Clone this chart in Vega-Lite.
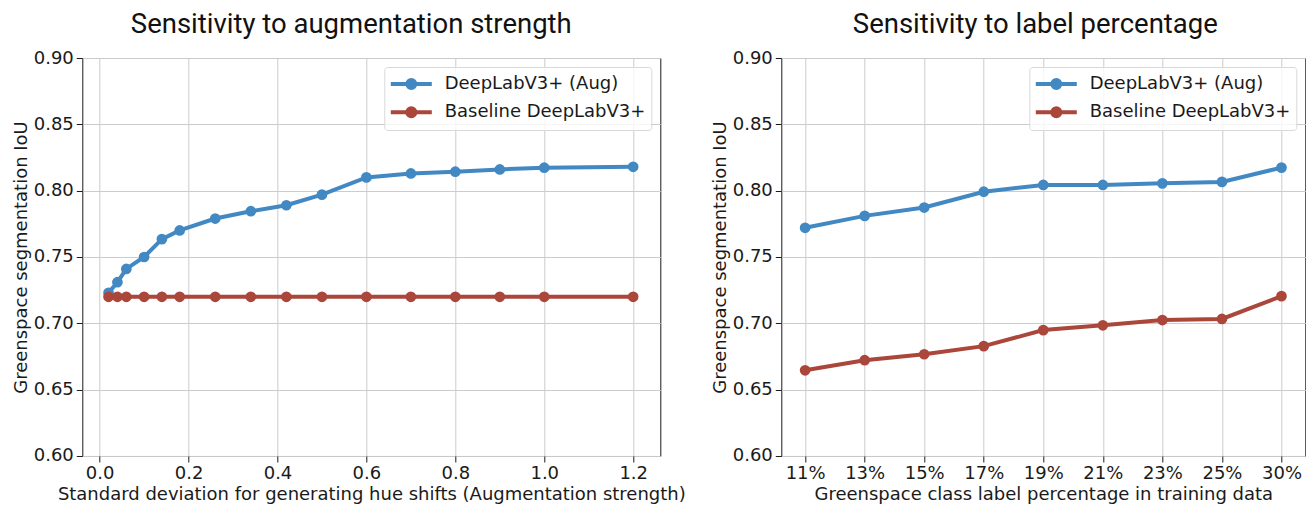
{
  "$schema": "https://vega.github.io/schema/vega-lite/v6.json",
  "background": "white",
  "padding": {"left": 11.3, "top": 10, "right": 0, "bottom": 0},
  "datasets": {
    "aug": [
      {"x": 0.02, "iou": 0.723, "model": "DeepLabV3+ (Aug)"},
      {"x": 0.04, "iou": 0.731, "model": "DeepLabV3+ (Aug)"},
      {"x": 0.06, "iou": 0.741, "model": "DeepLabV3+ (Aug)"},
      {"x": 0.10, "iou": 0.750, "model": "DeepLabV3+ (Aug)"},
      {"x": 0.14, "iou": 0.7635, "model": "DeepLabV3+ (Aug)"},
      {"x": 0.18, "iou": 0.770, "model": "DeepLabV3+ (Aug)"},
      {"x": 0.26, "iou": 0.779, "model": "DeepLabV3+ (Aug)"},
      {"x": 0.34, "iou": 0.7845, "model": "DeepLabV3+ (Aug)"},
      {"x": 0.42, "iou": 0.789, "model": "DeepLabV3+ (Aug)"},
      {"x": 0.50, "iou": 0.797, "model": "DeepLabV3+ (Aug)"},
      {"x": 0.60, "iou": 0.810, "model": "DeepLabV3+ (Aug)"},
      {"x": 0.70, "iou": 0.813, "model": "DeepLabV3+ (Aug)"},
      {"x": 0.80, "iou": 0.8143, "model": "DeepLabV3+ (Aug)"},
      {"x": 0.90, "iou": 0.816, "model": "DeepLabV3+ (Aug)"},
      {"x": 1.00, "iou": 0.8173, "model": "DeepLabV3+ (Aug)"},
      {"x": 1.20, "iou": 0.818, "model": "DeepLabV3+ (Aug)"},
      {"x": 0.02, "iou": 0.720, "model": "Baseline DeepLabV3+"},
      {"x": 0.04, "iou": 0.720, "model": "Baseline DeepLabV3+"},
      {"x": 0.06, "iou": 0.720, "model": "Baseline DeepLabV3+"},
      {"x": 0.10, "iou": 0.720, "model": "Baseline DeepLabV3+"},
      {"x": 0.14, "iou": 0.720, "model": "Baseline DeepLabV3+"},
      {"x": 0.18, "iou": 0.720, "model": "Baseline DeepLabV3+"},
      {"x": 0.26, "iou": 0.720, "model": "Baseline DeepLabV3+"},
      {"x": 0.34, "iou": 0.720, "model": "Baseline DeepLabV3+"},
      {"x": 0.42, "iou": 0.720, "model": "Baseline DeepLabV3+"},
      {"x": 0.50, "iou": 0.720, "model": "Baseline DeepLabV3+"},
      {"x": 0.60, "iou": 0.720, "model": "Baseline DeepLabV3+"},
      {"x": 0.70, "iou": 0.720, "model": "Baseline DeepLabV3+"},
      {"x": 0.80, "iou": 0.720, "model": "Baseline DeepLabV3+"},
      {"x": 0.90, "iou": 0.720, "model": "Baseline DeepLabV3+"},
      {"x": 1.00, "iou": 0.720, "model": "Baseline DeepLabV3+"},
      {"x": 1.20, "iou": 0.720, "model": "Baseline DeepLabV3+"}
    ],
    "label": [
      {"pct": "11%", "iou": 0.772, "model": "DeepLabV3+ (Aug)"},
      {"pct": "13%", "iou": 0.781, "model": "DeepLabV3+ (Aug)"},
      {"pct": "15%", "iou": 0.7873, "model": "DeepLabV3+ (Aug)"},
      {"pct": "17%", "iou": 0.7992, "model": "DeepLabV3+ (Aug)"},
      {"pct": "19%", "iou": 0.8043, "model": "DeepLabV3+ (Aug)"},
      {"pct": "21%", "iou": 0.8043, "model": "DeepLabV3+ (Aug)"},
      {"pct": "23%", "iou": 0.8055, "model": "DeepLabV3+ (Aug)"},
      {"pct": "25%", "iou": 0.8066, "model": "DeepLabV3+ (Aug)"},
      {"pct": "30%", "iou": 0.8174, "model": "DeepLabV3+ (Aug)"},
      {"pct": "11%", "iou": 0.6646, "model": "Baseline DeepLabV3+"},
      {"pct": "13%", "iou": 0.6722, "model": "Baseline DeepLabV3+"},
      {"pct": "15%", "iou": 0.6767, "model": "Baseline DeepLabV3+"},
      {"pct": "17%", "iou": 0.6828, "model": "Baseline DeepLabV3+"},
      {"pct": "19%", "iou": 0.6949, "model": "Baseline DeepLabV3+"},
      {"pct": "21%", "iou": 0.6985, "model": "Baseline DeepLabV3+"},
      {"pct": "23%", "iou": 0.7025, "model": "Baseline DeepLabV3+"},
      {"pct": "25%", "iou": 0.7033, "model": "Baseline DeepLabV3+"},
      {"pct": "30%", "iou": 0.7205, "model": "Baseline DeepLabV3+"}
    ]
  },
  "spacing": 121,
  "bounds": "flush",
  "resolve": {"scale": {"color": "independent"}, "legend": {"color": "independent"}},
  "hconcat": [
    {
      "width": 578,
      "height": 398,
      "title": {"text": "Sensitivity to augmentation strength", "dx": -20},
      "data": {"name": "aug"},
      "encoding": {
        "x": {
          "field": "x", "type": "quantitative",
          "scale": {"domain": [-0.039, 1.261], "nice": false, "zero": false},
          "axis": {"values": [0, 0.2, 0.4, 0.6, 0.8, 1.0, 1.2], "format": ".1f", "title": "Standard deviation for generating hue shifts (Augmentation strength)"}
        },
        "y": {
          "field": "iou", "type": "quantitative",
          "scale": {"domain": [0.6, 0.9], "nice": false, "zero": false},
          "axis": {"values": [0.6, 0.65, 0.7, 0.75, 0.8, 0.85, 0.9], "format": ".2f", "title": "Greenspace segmentation IoU"}
        },
        "color": {
          "field": "model", "type": "nominal",
          "scale": {"domain": ["DeepLabV3+ (Aug)", "Baseline DeepLabV3+"], "range": ["#4288c2", "#ab463b"]},
          "legend": {"orient": "top-right", "offset": 9, "title": null}
        }
      },
      "layer": [
        {"mark": {"type": "line", "strokeWidth": 4}},
        {"mark": {"type": "point", "filled": true, "size": 115, "opacity": 1}}
      ]
    },
    {
      "width": 524,
      "height": 398,
      "title": {"text": "Sensitivity to label percentage", "dx": -8},
      "data": {"name": "label"},
      "encoding": {
        "x": {
          "field": "pct", "type": "ordinal",
          "sort": ["11%", "13%", "15%", "17%", "19%", "21%", "23%", "25%", "30%"],
          "scale": {"type": "point", "padding": 0.4},
          "axis": {"labelAngle": 0, "grid": true, "title": "Greenspace class label percentage in training data"}
        },
        "y": {
          "field": "iou", "type": "quantitative",
          "scale": {"domain": [0.6, 0.9], "nice": false, "zero": false},
          "axis": {"values": [0.6, 0.65, 0.7, 0.75, 0.8, 0.85, 0.9], "format": ".2f", "title": "Greenspace segmentation IoU"}
        },
        "color": {
          "field": "model", "type": "nominal",
          "scale": {"domain": ["DeepLabV3+ (Aug)", "Baseline DeepLabV3+"], "range": ["#4288c2", "#ab463b"]},
          "legend": {"orient": "top-right", "offset": 9, "title": null}
        }
      },
      "layer": [
        {"mark": {"type": "line", "strokeWidth": 4}},
        {"mark": {"type": "point", "filled": true, "size": 115, "opacity": 1}}
      ]
    }
  ],
  "config": {
    "view": {"stroke": "#1a1a1a", "strokeWidth": 1},
    "font": "DejaVu Sans",
    "axis": {
      "labelFont": "DejaVu Sans", "labelFontSize": 18, "labelColor": "#1a1a1a",
      "titleFont": "DejaVu Sans", "titleFontSize": 18, "titleFontWeight": "normal", "titleColor": "#1a1a1a",
      "gridColor": "#cccccc", "gridWidth": 1,
      "tickColor": "#1a1a1a", "tickSize": 6, "labelPadding": 3, "titlePadding": 3,
      "domain": false
    },
    "title": {"font": "Roboto", "fontSize": 27.5, "fontWeight": "normal", "color": "#111111", "baseline": "alphabetic", "offset": 11},
    "legend": {
      "symbolType": "M-2.05,0H2.05M0.4,0A0.4,0.4,0,1,1,-0.4,0A0.4,0.4,0,1,1,0.4,0M0.2,0A0.2,0.2,0,1,1,-0.2,0A0.2,0.2,0,1,1,0.2,0",
      "symbolSize": 400,
      "symbolStrokeWidth": 4,
      "symbolOpacity": 1,
      "labelFont": "DejaVu Sans", "labelFontSize": 18, "labelColor": "#1a1a1a", "labelLimit": 400,
      "padding": 5, "rowPadding": 4.2, "symbolOffset": 10, "labelOffset": 21.4,
      "fillColor": "rgba(255,255,255,0.8)", "strokeColor": "#d9d9d9", "cornerRadius": 3
    }
  }
}
